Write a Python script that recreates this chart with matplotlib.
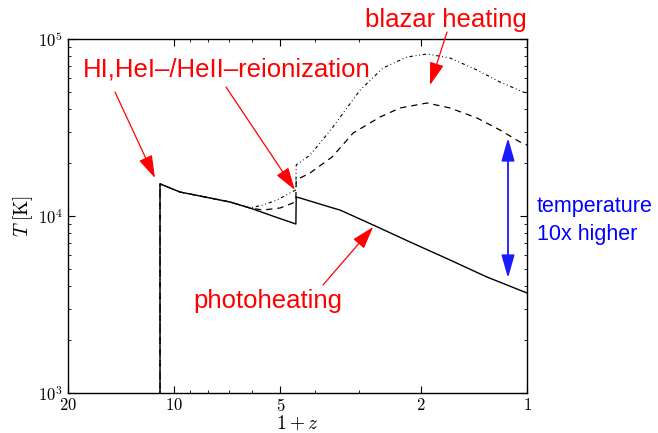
import matplotlib
matplotlib.use("Agg")
import matplotlib.pyplot as plt
from matplotlib.ticker import FixedLocator, FixedFormatter, LogLocator, NullFormatter

plt.rcParams['mathtext.fontset'] = 'cm'
plt.rcParams['font.family'] = ['Liberation Sans', 'DejaVu Sans']

# ---- data (x = 1+z, y = T in K) ----
photo_x = [10.97, 10.97, 10.28, 9.63, 8.45, 6.95, 6.10, 5.11, 4.52, 4.51, 4.40, 3.55, 3.39, 2.73, 2.146, 1.653, 1.299, 1.0]
photo_T = [500, 15200, 14400, 13660, 12970, 12000, 11100, 9800, 9010, 12800, 12640, 11100, 10810, 8897, 7131, 5642, 4522, 3673]

dash_x = [10.97, 10.97, 10.28, 9.63, 8.45, 6.95, 6.10, 5.60, 5.01, 4.61, 4.52, 4.51, 4.12, 3.57, 3.11, 2.61, 2.29, 1.92, 1.653, 1.386, 1.193, 1.047, 1.0]
dash_T = [500, 15200, 14400, 13660, 12970, 12000, 11100, 10810, 11100, 11840, 12310, 15970, 17500, 21540, 29440, 36250, 40760, 43500, 40760, 35790, 30610, 26190, 25180]

blaz_x = [10.97, 10.97, 10.28, 9.63, 8.45, 6.95, 6.10, 5.60, 5.11, 4.70, 4.52, 4.51, 4.12, 3.86, 3.55, 2.97, 2.56, 2.19, 1.92, 1.653, 1.386, 1.193, 1.026, 1.0]
blaz_T = [500, 15200, 14400, 13660, 12970, 12000, 11100, 11540, 12310, 13490, 14030, 19420, 22100, 25850, 31830, 51510, 68600, 79100, 82300, 78100, 66800, 57170, 50200, 49600]

x_ticks = [20, 10, 5, 2, 1]
x_ticklabels = ['$20$', '$10$', '$5$', '$2$', '$1$']
y_ticks = [1e3, 1e4, 1e5]
y_ticklabels = ['$10^3$', '$10^4$', '$10^5$']

W, H = 658, 433
fig = plt.figure(figsize=(W / 100, H / 100), dpi=100)
ax = fig.add_axes([68 / W, 1 - 393 / H, (527 - 68) / W, (393 - 39) / H])

ax.plot(photo_x, photo_T, color='black', lw=1.0)
ax.plot(dash_x, dash_T, color='black', lw=0.9, dashes=(5, 4))
ax.plot(blaz_x, blaz_T, color='black', lw=0.8, dashes=(3, 2.5, 0.8, 2.5, 0.8, 2.5))

ax.set_xscale('log')
ax.set_yscale('log')
ax.set_xlim(20, 1)
ax.set_ylim(1e3, 1e5)

ax.xaxis.set_major_locator(FixedLocator(x_ticks))
ax.xaxis.set_major_formatter(FixedFormatter(x_ticklabels))
ax.xaxis.set_minor_locator(LogLocator(base=10, subs=[2, 3, 4, 5, 6, 7, 8, 9]))
ax.xaxis.set_minor_formatter(NullFormatter())
ax.yaxis.set_major_locator(FixedLocator(y_ticks))
ax.yaxis.set_major_formatter(FixedFormatter(y_ticklabels))
ax.yaxis.set_minor_locator(LogLocator(base=10, subs=[2, 3, 4, 5, 6, 7, 8, 9]))
ax.yaxis.set_minor_formatter(NullFormatter())

ax.tick_params(which='both', direction='in', top=True, right=True, labelsize=12)
ax.tick_params(axis='x', pad=3)
ax.tick_params(axis='y', pad=4)
ax.tick_params(which='major', length=5, width=0.8)
ax.tick_params(which='minor', length=2.5, width=0.6)
for s in ax.spines.values():
    s.set_linewidth(1.0)

ax.set_xlabel('$1+z$', fontsize=14, labelpad=0)
ax.set_ylabel(r'$T\;[\mathrm{K}]$', fontsize=14, labelpad=2)

red = '#ff0000'
aprops = dict(arrowstyle='-|>,head_length=0.7,head_width=0.22', color=red, lw=0.9,
              mutation_scale=20, shrinkA=0, shrinkB=0)

def px(x, y):
    return (x, H - y)

# red annotations
ax.annotate('', xy=(11.34, 16400), xytext=px(115, 92), textcoords='figure pixels', arrowprops=aprops)
ax.annotate('', xy=(4.55, 14030), xytext=px(226, 87), textcoords='figure pixels', arrowprops=aprops)
ax.annotate('', xy=(1.883, 54970), xytext=px(447, 32), textcoords='figure pixels', arrowprops=aprops)
ax.annotate('', xy=(2.73, 8667), xytext=px(323, 285), textcoords='figure pixels', arrowprops=aprops)

fig.text(83 / W, 1 - 77 / H, 'HI,HeI\u2013/HeII\u2013reionization', color=red, fontsize=18.5,
         ha='left', va='baseline')
fig.text(365 / W, 1 - 27 / H, 'blazar heating', color=red, fontsize=18.5, ha='left', va='baseline')
fig.text(193 / W, 1 - 308 / H, 'photoheating', color=red, fontsize=18.5, ha='left', va='baseline')

# blue double arrow
bprops = dict(arrowstyle='<|-|>,head_length=0.7,head_width=0.2', color='#1a1aff', lw=1.3,
              mutation_scale=20, shrinkA=0, shrinkB=0)
ax.annotate('', xy=(1.132, 27590), xytext=(1.132, 4463), arrowprops=bprops)
fig.text(537 / W, 1 - 212 / H, 'temperature', color='#0000ff', fontsize=15.5, ha='left', va='baseline')
fig.text(537 / W, 1 - 240 / H, '10x higher', color='#0000ff', fontsize=15.5, ha='left', va='baseline')

fig.savefig('out.png', dpi=100)
